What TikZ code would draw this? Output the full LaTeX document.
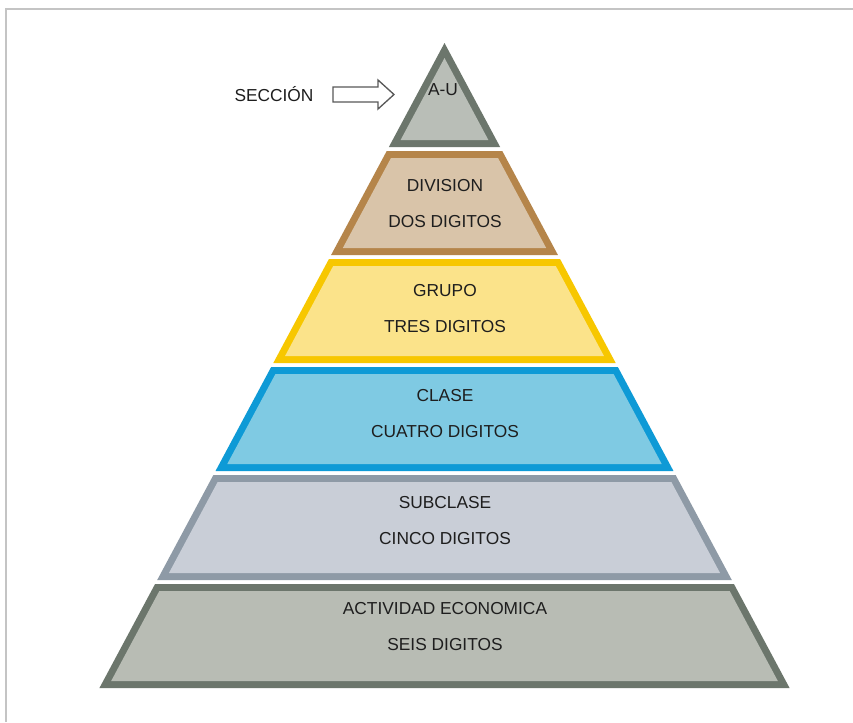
\documentclass[tikz,border=0pt]{standalone}
\usepackage{fontspec}
\setmainfont{Liberation Sans}
\definecolor{frameC}{HTML}{C4C4C4}
\definecolor{tStroke}{HTML}{6C766C}
\definecolor{tFill}{HTML}{B9BEB7}
\definecolor{dStroke}{HTML}{B5854A}
\definecolor{dFill}{HTML}{D9C4A9}
\definecolor{gStroke}{HTML}{F7C700}
\definecolor{gFill}{HTML}{FBE38A}
\definecolor{cStroke}{HTML}{0E9AD6}
\definecolor{cFill}{HTML}{7FCAE3}
\definecolor{sStroke}{HTML}{8E9AA6}
\definecolor{sFill}{HTML}{C9CED7}
\definecolor{aStroke}{HTML}{6C766C}
\definecolor{aFill}{HTML}{B8BCB4}
\definecolor{txtC}{HTML}{1E1E1E}
\newcommand\pyrlayer[4]{%
  \pgfmathsetmacro\hwtA{0.535*(#1-43)}%
  \pgfmathsetmacro\hwbA{0.535*(#2-43)}%
  \pgfmathsetmacro\hwti{0.535*(#1+7-43)-8}%
  \pgfmathsetmacro\hwbi{0.535*(#2-7-43)-8}%
  \fill[#3] (444.5-\hwtA,#1) -- (444.5+\hwtA,#1) -- (444.5+\hwbA,#2) -- (444.5-\hwbA,#2) -- cycle;
  \fill[#4] (444.5-\hwti,#1+7) -- (444.5+\hwti,#1+7) -- (444.5+\hwbi,#2-7) -- (444.5-\hwbi,#2-7) -- cycle;
}
\begin{document}
\begin{tikzpicture}[x=0.75pt,y=-0.75pt,
  lbl/.style={font=\fontsize{13}{15}\selectfont, text=txtC, inner sep=0pt}]
\useasboundingbox (0,0) rectangle (853,722);
\fill[white] (0,0) rectangle (853,722);
\draw[frameC, line width=1.5] (6,722) -- (6,9) -- (853,9);

% top triangle
\pgfmathsetmacro\hwTb{0.535*(147-43)}
\pgfmathsetmacro\hwTi{0.535*(140-43)-8}
\fill[tStroke] (444.5,43) -- (444.5+\hwTb,147) -- (444.5-\hwTb,147) -- cycle;
\fill[tFill] (444.5,58) -- (444.5+\hwTi,140) -- (444.5-\hwTi,140) -- cycle;

\pyrlayer{151}{255}{dStroke}{dFill}
\pyrlayer{259}{363}{gStroke}{gFill}
\pyrlayer{367}{471}{cStroke}{cFill}
\pyrlayer{475}{580}{sStroke}{sFill}
\pyrlayer{584}{688}{aStroke}{aFill}

% arrow
\draw[black!65, line width=1, fill=white, line join=miter]
  (333,87) -- (378,87) -- (378,80) -- (394,94.5) -- (378,109) -- (378,102) -- (333,102) -- cycle;

\node[lbl] (seccion) at (274,94.5) {SECCIÓN};
\node[lbl] (au) at (443,90) {A-U};
\node[lbl] (div1) at (445,186) {DIVISION};
\node[lbl] (div2) at (445,221.5) {DOS DIGITOS};
\node[lbl] (gru1) at (445,291) {GRUPO};
\node[lbl] (gru2) at (445,326.5) {TRES DIGITOS};
\node[lbl] (cla1) at (445,396) {CLASE};
\node[lbl] (cla2) at (445,432) {CUATRO DIGITOS};
\node[lbl] (sub1) at (445,502.5) {SUBCLASE};
\node[lbl] (sub2) at (445,538.5) {CINCO DIGITOS};
\node[lbl] (act1) at (445,608.5) {ACTIVIDAD ECONOMICA};
\node[lbl] (act2) at (445,645) {SEIS DIGITOS};
\end{tikzpicture}
\end{document}
